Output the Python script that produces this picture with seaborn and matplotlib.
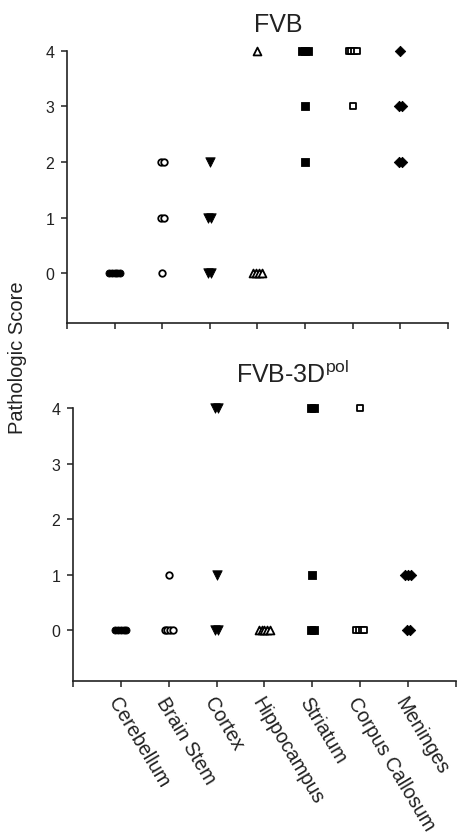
import numpy as np
import pandas as pd
import matplotlib
matplotlib.use("Agg")
import matplotlib.pyplot as plt
import seaborn as sns

sns.set_style("ticks")
plt.rcParams["font.family"] = ["Liberation Sans", "DejaVu Sans"]
plt.rcParams["mathtext.fontset"] = "custom"
plt.rcParams["mathtext.rm"] = "Liberation Sans"

# ── data (5 animals per region)
regions = ["Cerebellum", "Brain Stem", "Cortex", "Hippocampus",
           "Striatum", "Corpus Callosum", "Meninges"]

fvb_cerebellum   = [0, 0, 0, 0, 0]
fvb_brainstem    = [0, 1, 1, 2, 2]
fvb_cortex       = [0, 0, 1, 1, 2]
fvb_hippocampus  = [0, 0, 0, 0, 4]
fvb_striatum     = [2, 3, 4, 4, 4]
fvb_callosum     = [3, 4, 4, 4, 4]
fvb_meninges     = [2, 2, 3, 3, 4]

pol_cerebellum   = [0, 0, 0, 0, 0]
pol_brainstem    = [0, 0, 0, 0, 1]
pol_cortex       = [0, 0, 1, 4, 4]
pol_hippocampus  = [0, 0, 0, 0, 0]
pol_striatum     = [0, 0, 1, 4, 4]
pol_callosum     = [0, 0, 0, 0, 4]
pol_meninges     = [0, 0, 1, 1, 1]

fvb_scores = [fvb_cerebellum, fvb_brainstem, fvb_cortex, fvb_hippocampus,
              fvb_striatum, fvb_callosum, fvb_meninges]
pol_scores = [pol_cerebellum, pol_brainstem, pol_cortex, pol_hippocampus,
              pol_striatum, pol_callosum, pol_meninges]

# marker, filled?, size
styles = {
    "Cerebellum":      ("o", True, 26),
    "Brain Stem":      ("o", False, 22),
    "Cortex":          ("v", True, 46),
    "Hippocampus":     ("^", False, 32),
    "Striatum":        ("s", True, 32),
    "Corpus Callosum": ("s", False, 19),
    "Meninges":        ("D", True, 28),
}


def to_frame(scores):
    rows = []
    for i, (reg, vals) in enumerate(zip(regions, scores)):
        s = pd.Series(vals)
        for v, grp in s.groupby(s):
            k = len(grp)
            offs = (np.arange(k) - (k - 1) / 2) * 0.058
            for o in offs:
                rows.append({"region": reg, "x": i + 1 + o, "score": v})
    return pd.DataFrame(rows)


def panel(ax, scores, ymin):
    df = to_frame(scores)
    for reg in regions:
        m, filled, size = styles[reg]
        sub = df[df["region"] == reg]
        if filled:
            sns.scatterplot(data=sub, x="x", y="score", marker=m, s=size,
                            color="black", edgecolor="black", linewidth=0.6,
                            ax=ax, legend=False, zorder=3, clip_on=False)
        else:
            sns.scatterplot(data=sub, x="x", y="score", marker=m, s=size,
                            color="white", edgecolor="black", linewidth=1.3,
                            ax=ax, legend=False, zorder=3, clip_on=False)
    ax.set_xlim(0, 8)
    ax.set_ylim(ymin, 4)
    ax.set_xticks(range(9))
    ax.set_yticks(range(5))
    ax.set_xlabel("")
    ax.set_ylabel("")
    sns.despine(ax=ax)
    for sp in ["left", "bottom"]:
        ax.spines[sp].set_linewidth(1.2)
        ax.spines[sp].set_color("#222222")
    ax.tick_params(direction="out", length=4, width=1.1, color="#222222",
                   labelsize=11.5, labelcolor="#222222", pad=5)


fig = plt.figure(figsize=(4.62, 8.37), dpi=100)
ax1 = fig.add_axes([0.145, 0.6129, 0.8247, 0.325])
ax2 = fig.add_axes([0.158, 0.1852, 0.829, 0.326])

panel(ax1, fvb_scores, -0.9)
panel(ax2, pol_scores, -0.92)

ax1.set_xticklabels([])
ax2.set_xticklabels([""] + regions + [""], rotation=-59, ha="left", va="top",
                    rotation_mode="anchor", fontsize=14.2, color="#222222")

ax1.text(0.554, 1.074, "FVB", transform=ax1.transAxes, ha="center",
         va="baseline", fontsize=18, color="#222222")
ax2.text(0.574, 1.095, r"FVB-3D$^{\mathrm{pol}}$", transform=ax2.transAxes,
         ha="center", va="baseline", fontsize=18, color="#222222")

fig.text(0.037, 0.573, "Pathologic Score", rotation=90, ha="center",
         va="center", fontsize=14.5, color="#222222")

fig.savefig("out.png", dpi=100)
